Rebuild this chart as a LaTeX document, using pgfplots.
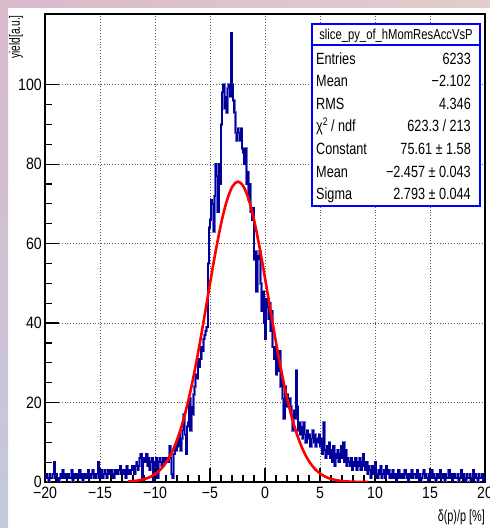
\documentclass[border=0pt]{standalone}
\usepackage{fontspec}
\setmainfont{Liberation Sans}
\newfontfamily\tickfont{Liberation Sans}[FakeStretch=0.86]
\newfontfamily\statfont{Liberation Sans}[FakeStretch=0.78]
\newfontfamily\labelfont{Liberation Sans}[FakeStretch=0.68]
\usepackage{pgfplots}
\usepackage{pgfplotstable}
\pgfplotsset{compat=1.18}

\definecolor{histblue}{RGB}{0,0,153}
\definecolor{histhalo}{RGB}{110,110,215}
\definecolor{statblue}{RGB}{0,0,255}
\definecolor{gridgray}{RGB}{90,90,90}
\definecolor{padpink}{RGB}{218,186,204}
\definecolor{padblue}{RGB}{196,202,220}
\definecolor{padtop}{RGB}{226,204,204}

% slice_py_of_hMomResAccVsP: 400 bins of 0.1 on [-20,20], low edge and content
\pgfplotstableread[row sep=\\]{
x y\\
-20.0 1\\ -19.9 2\\ -19.8 1\\ -19.7 0\\ -19.6 2\\ -19.5 1\\ -19.4 1\\ -19.3 2\\ -19.2 5\\ -19.1 1\\
-19.0 2\\ -18.9 1\\ -18.8 0\\ -18.7 1\\ -18.6 2\\ -18.5 1\\ -18.4 3\\ -18.3 1\\ -18.2 2\\ -18.1 1\\
-18.0 1\\ -17.9 2\\ -17.8 1\\ -17.7 1\\ -17.6 3\\ -17.5 0\\ -17.4 2\\ -17.3 1\\ -17.2 2\\ -17.1 2\\
-17.0 1\\ -16.9 3\\ -16.8 1\\ -16.7 2\\ -16.6 0\\ -16.5 2\\ -16.4 1\\ -16.3 2\\ -16.2 1\\ -16.1 3\\
-16.0 2\\ -15.9 1\\ -15.8 2\\ -15.7 3\\ -15.6 1\\ -15.5 2\\ -15.4 1\\ -15.3 2\\ -15.2 5\\ -15.1 1\\
-15.0 2\\ -14.9 3\\ -14.8 1\\ -14.7 2\\ -14.6 3\\ -14.5 2\\ -14.4 1\\ -14.3 3\\ -14.2 2\\ -14.1 2\\
-14.0 3\\ -13.9 2\\ -13.8 1\\ -13.7 3\\ -13.6 2\\ -13.5 3\\ -13.4 2\\ -13.3 3\\ -13.2 4\\ -13.1 2\\
-13.0 3\\ -12.9 2\\ -12.8 3\\ -12.7 1\\ -12.6 4\\ -12.5 2\\ -12.4 3\\ -12.3 2\\ -12.2 3\\ -12.1 4\\
-12.0 3\\ -11.9 2\\ -11.8 4\\ -11.7 5\\ -11.6 3\\ -11.5 4\\ -11.4 6\\ -11.3 7\\ -11.2 1\\ -11.1 5\\
-11.0 6\\ -10.9 5\\ -10.8 7\\ -10.7 4\\ -10.6 6\\ -10.5 3\\ -10.4 5\\ -10.3 6\\ -10.2 0\\ -10.1 5\\
-10.0 4\\ -9.9 6\\ -9.8 1\\ -9.7 5\\ -9.6 6\\ -9.5 5\\ -9.4 4\\ -9.3 6\\ -9.2 5\\ -9.1 6\\
-9.0 5\\ -8.9 6\\ -8.8 5\\ -8.7 9\\ -8.6 6\\ -8.5 2\\ -8.4 1\\ -8.3 7\\ -8.2 9\\ -8.1 8\\
-8.0 10\\ -7.9 9\\ -7.8 12\\ -7.7 8\\ -7.6 11\\ -7.5 13\\ -7.4 17\\ -7.3 12\\ -7.2 7\\ -7.1 14\\
-7.0 15\\ -6.9 21\\ -6.8 13\\ -6.7 19\\ -6.6 17\\ -6.5 22\\ -6.4 24\\ -6.3 27\\ -6.2 26\\ -6.1 31\\
-6.0 29\\ -5.9 31\\ -5.8 34\\ -5.7 33\\ -5.6 36\\ -5.5 37\\ -5.4 38\\ -5.3 39\\ -5.2 55\\ -5.1 64\\
-5.0 66\\ -4.9 71\\ -4.8 70\\ -4.7 63\\ -4.6 72\\ -4.5 80\\ -4.4 77\\ -4.3 68\\ -4.2 80\\ -4.1 75\\
-4.0 90\\ -3.9 98\\ -3.8 100\\ -3.7 94\\ -3.6 97\\ -3.5 93\\ -3.4 99\\ -3.3 100\\ -3.2 97\\ -3.1 113\\
-3.0 100\\ -2.9 96\\ -2.8 93\\ -2.7 88\\ -2.6 86\\ -2.5 89\\ -2.4 88\\ -2.3 86\\ -2.2 89\\ -2.1 84\\
-2.0 83\\ -1.9 80\\ -1.8 84\\ -1.7 75\\ -1.6 78\\ -1.5 71\\ -1.4 75\\ -1.3 68\\ -1.2 66\\ -1.1 69\\
-1.0 56\\ -0.9 58\\ -0.8 48\\ -0.7 57\\ -0.6 56\\ -0.5 58\\ -0.4 50\\ -0.3 43\\ -0.2 48\\ -0.1 40\\
0.0 36\\ 0.1 46\\ 0.2 44\\ 0.3 41\\ 0.4 45\\ 0.5 38\\ 0.6 43\\ 0.7 34\\ 0.8 31\\ 0.9 34\\
1.0 27\\ 1.1 32\\ 1.2 28\\ 1.3 33\\ 1.4 24\\ 1.5 26\\ 1.6 21\\ 1.7 16\\ 1.8 24\\ 1.9 19\\
2.0 22\\ 2.1 20\\ 2.2 21\\ 2.3 19\\ 2.4 17\\ 2.5 13\\ 2.6 18\\ 2.7 16\\ 2.8 28\\ 2.9 19\\
3.0 13\\ 3.1 15\\ 3.2 12\\ 3.3 14\\ 3.4 11\\ 3.5 15\\ 3.6 12\\ 3.7 10\\ 3.8 13\\ 3.9 11\\
4.0 12\\ 4.1 9\\ 4.2 11\\ 4.3 13\\ 4.4 10\\ 4.5 12\\ 4.6 9\\ 4.7 11\\ 4.8 10\\ 4.9 12\\
5.0 9\\ 5.1 11\\ 5.2 7\\ 5.3 15\\ 5.4 8\\ 5.5 6\\ 5.6 9\\ 5.7 7\\ 5.8 10\\ 5.9 6\\
6.0 8\\ 6.1 5\\ 6.2 9\\ 6.3 4\\ 6.4 7\\ 6.5 6\\ 6.6 8\\ 6.7 5\\ 6.8 7\\ 6.9 9\\
7.0 6\\ 7.1 10\\ 7.2 5\\ 7.3 8\\ 7.4 4\\ 7.5 6\\ 7.6 5\\ 7.7 4\\ 7.8 6\\ 7.9 3\\
8.0 5\\ 8.1 4\\ 8.2 6\\ 8.3 3\\ 8.4 5\\ 8.5 4\\ 8.6 6\\ 8.7 3\\ 8.8 5\\ 8.9 7\\
9.0 4\\ 9.1 3\\ 9.2 5\\ 9.3 2\\ 9.4 4\\ 9.5 3\\ 9.6 1\\ 9.7 4\\ 9.8 2\\ 9.9 3\\
10.0 5\\ 10.1 2\\ 10.2 1\\ 10.3 3\\ 10.4 2\\ 10.5 4\\ 10.6 1\\ 10.7 2\\ 10.8 3\\ 10.9 1\\
11.0 4\\ 11.1 2\\ 11.2 3\\ 11.3 1\\ 11.4 2\\ 11.5 1\\ 11.6 3\\ 11.7 1\\ 11.8 2\\ 11.9 0\\
12.0 2\\ 12.1 3\\ 12.2 1\\ 12.3 2\\ 12.4 1\\ 12.5 2\\ 12.6 1\\ 12.7 3\\ 12.8 2\\ 12.9 1\\
13.0 0\\ 13.1 2\\ 13.2 1\\ 13.3 3\\ 13.4 1\\ 13.5 2\\ 13.6 2\\ 13.7 1\\ 13.8 3\\ 13.9 1\\
14.0 2\\ 14.1 0\\ 14.2 1\\ 14.3 2\\ 14.4 3\\ 14.5 1\\ 14.6 2\\ 14.7 1\\ 14.8 0\\ 14.9 2\\
15.0 1\\ 15.1 3\\ 15.2 1\\ 15.3 2\\ 15.4 1\\ 15.5 0\\ 15.6 2\\ 15.7 1\\ 15.8 2\\ 15.9 3\\
16.0 1\\ 16.1 1\\ 16.2 2\\ 16.3 0\\ 16.4 2\\ 16.5 1\\ 16.6 1\\ 16.7 3\\ 16.8 1\\ 16.9 2\\
17.0 0\\ 17.1 1\\ 17.2 2\\ 17.3 1\\ 17.4 1\\ 17.5 2\\ 17.6 0\\ 17.7 1\\ 17.8 3\\ 17.9 1\\
18.0 2\\ 18.1 1\\ 18.2 0\\ 18.3 2\\ 18.4 1\\ 18.5 1\\ 18.6 2\\ 18.7 0\\ 18.8 1\\ 18.9 3\\
19.0 1\\ 19.1 2\\ 19.2 1\\ 19.3 0\\ 19.4 2\\ 19.5 1\\ 19.6 1\\ 19.7 2\\ 19.8 0\\ 19.9 1\\
20.0 1\\
}\hist

% gaus fit: Constant 75.61, Mean -2.457, Sigma 2.793, evaluated every 0.5 from the mean
\pgfplotstableread[row sep=\\]{
x y\\
-12.457 0.124\\ -11.957 0.232\\ -11.457 0.421\\ -10.957 0.737\\ -10.457 1.250\\
-9.957 2.055\\ -9.457 3.270\\ -8.957 5.041\\ -8.457 7.524\\ -7.957 10.88\\
-7.457 15.23\\ -6.957 20.65\\ -6.457 27.12\\ -5.957 34.48\\ -5.457 42.47\\
-4.957 50.65\\ -4.457 58.51\\ -3.957 65.46\\ -3.457 70.92\\ -2.957 74.41\\
-2.457 75.61\\ -1.957 74.41\\ -1.457 70.92\\ -0.957 65.46\\ -0.457 58.51\\
0.043 50.65\\ 0.543 42.47\\ 1.043 34.48\\ 1.543 27.12\\ 2.043 20.65\\
2.543 15.23\\ 3.043 10.88\\ 3.543 7.524\\ 4.043 5.041\\ 4.543 3.270\\
5.043 2.055\\ 5.543 1.250\\ 6.043 0.737\\ 6.543 0.421\\ 7.043 0.232\\
7.543 0.124\\ 8.043 0.065\\ 8.543 0.032\\ 9.400 0.009\\
}\gausfit

\newcommand\ticksize{\tickfont\fontsize{16.5}{18}\selectfont}
\newcommand\statsize{\statfont\fontsize{16.3}{18}\selectfont}

\begin{document}
\begin{tikzpicture}[x=1bp,y=1bp]
\useasboundingbox (0,0) rectangle (490,528);
\fill[white] (0,0) rectangle (490,528);
% canvas edges
\shade[left color=padpink, right color=padtop] (0,520) rectangle (490,528);
\shade[top color=padpink, bottom color=padblue] (0,0) rectangle (8,528);

\begin{axis}[
  at={(45bp,46bp)}, anchor=south west,
  scale only axis, width=440bp, height=468bp,
  xmin=-20, xmax=20, ymin=0, ymax=117.8,
  xtick={-20,-15,...,20},
  xticklabels={−20,−15,−10,−5,0,5,10,15,20},
  ytick={0,20,...,100},
  yticklabels={0,20,40,60,80,100},
  minor x tick num=4, minor y tick num=3,
  xtick pos=bottom, ytick pos=left,
  tick align=inside,
  major tick length=14bp, minor tick length=7bp,
  every tick/.style={black, line width=1.2bp},
  axis line style={black, line width=1.8bp},
  grid=major,
  major grid style={gridgray, line width=0.8bp, dash pattern=on 0.8bp off 2bp},
  xticklabel style={font=\ticksize, anchor=north, inner sep=0pt, yshift=-5bp},
  yticklabel style={font=\ticksize, anchor=east, inner sep=0pt, xshift=-3bp},
]
\addplot[const plot mark left, histhalo, line width=2.6bp, forget plot] table[x=x, y=y] {\hist};
\addplot[const plot mark left, histblue, line width=1.5bp] table[x=x, y=y] {\hist};
\addplot[red, line width=2.6bp, smooth] table[x=x, y=y] {\gausfit};
\end{axis}

% axis titles
\node[anchor=base east, inner sep=0pt, font=\labelfont\fontsize{16}{18}\selectfont] at (485,6.5) {δ(p)/p [\%]};
\node[rotate=90, anchor=east, inner sep=0pt, font=\labelfont\fontsize{15}{17}\selectfont] at (16,513) {yield[a.u.]};

% statistics box
\filldraw[fill=white, draw=statblue, line width=1.6bp] (311.7,322) rectangle (480,504);
\draw[statblue, line width=1.6bp] (311.7,483) -- (480,483);
\node[anchor=base, inner sep=0pt, font=\statfont\fontsize{14.5}{16}\selectfont] at (396,488) {slice\_py\_of\_hMomResAccVsP};
\begin{scope}[every node/.style={inner sep=0pt, font=\statsize}]
\node[anchor=base west] at (316,463.9) {Entries};
\node[anchor=base east] at (471,463.9) {6233};
\node[anchor=base west] at (316,441.3) {Mean};
\node[anchor=base east] at (471,441.3) {−2.102};
\node[anchor=base west] at (316,418.7) {RMS};
\node[anchor=base east] at (471,418.7) {4.346};
\node[anchor=base west] at (316,396.1) {χ\raisebox{6.5bp}{\fontsize{11}{11}\selectfont 2} / ndf};
\node[anchor=base east] at (471,396.1) {623.3 / 213};
\node[anchor=base west] at (316,373.5) {Constant};
\node[anchor=base east] at (471,373.5) {75.61 ± 1.58};
\node[anchor=base west] at (316,350.9) {Mean};
\node[anchor=base east] at (471,350.9) {−2.457 ± 0.043};
\node[anchor=base west] at (316,328.3) {Sigma};
\node[anchor=base east] at (471,328.3) {2.793 ± 0.044};
\end{scope}
\end{tikzpicture}
\end{document}
